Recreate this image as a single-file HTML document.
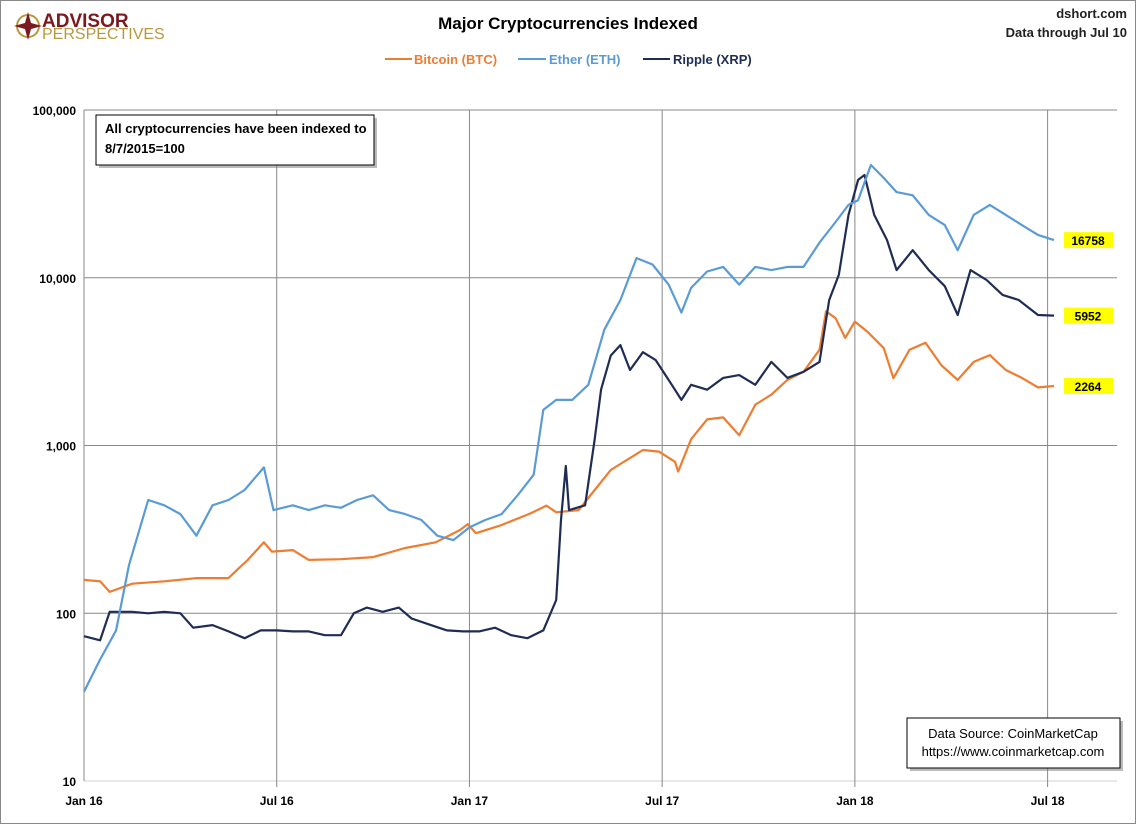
<!DOCTYPE html>
<html><head><meta charset="utf-8"><style>
body{margin:0;background:#fff;font-family:"Liberation Sans",sans-serif}
#wrap{position:relative;width:1136px;height:824px;overflow:hidden}
</style></head><body>
<div id="wrap">
<svg id="chart" width="1136" height="824" xmlns="http://www.w3.org/2000/svg">
<rect x="0.5" y="0.5" width="1135" height="823" fill="#fff" stroke="#888"/>
<g>
<circle cx="28" cy="26" r="11" fill="none" stroke="#b8983f" stroke-width="2"/>
<polygon points="28,12 31,23 42,26 31,29 28,40 25,29 14,26 25,23" fill="#7a1a1f"/>
<text x="42" y="27" font-size="19" font-weight="bold" fill="#7a1a1f">ADVISOR</text>
<text x="42" y="39" font-size="16" fill="#b8983f">PERSPECTIVES</text>
</g>
<text x="568" y="29" text-anchor="middle" font-size="17" font-weight="bold">Major Cryptocurrencies  Indexed</text>
<text x="1127" y="18" text-anchor="end" font-size="13" font-weight="bold" fill="#222">dshort.com</text>
<text x="1127" y="37" text-anchor="end" font-size="13" font-weight="bold" fill="#222">Data through Jul 10</text>
<g font-size="13" font-weight="bold">
<g><line x1="385" y1="59" x2="412" y2="59" stroke="#ED7D31" stroke-width="2"/><text x="414" y="64" fill="#ED7D31">Bitcoin (BTC)</text></g>
<g><line x1="518" y1="59" x2="546" y2="59" stroke="#5B9BD5" stroke-width="2"/><text x="549" y="64" fill="#5B9BD5">Ether (ETH)</text></g>
<g><line x1="643" y1="59" x2="670" y2="59" stroke="#1F2D54" stroke-width="2"/><text x="673" y="64" fill="#1F2D54">Ripple (XRP)</text></g>
</g>
<g id="grid"></g><g id="axes"></g><g id="series"></g>
<g>
<rect x="99" y="118" width="278" height="50" fill="#777" opacity="0.5"/>
<rect x="96" y="115" width="278" height="50" fill="#fff" stroke="#000"/>
<text x="105" y="133" font-size="13" font-weight="bold">All cryptocurrencies have been indexed to</text>
<text x="105" y="153" font-size="13" font-weight="bold">8/7/2015=100</text>
</g>
<g>
<rect x="910" y="721" width="213" height="50" fill="#777" opacity="0.5"/>
<rect x="907" y="718" width="213" height="50" fill="#fff" stroke="#000"/>
<text x="1013" y="738" text-anchor="middle" font-size="13">Data Source: CoinMarketCap</text>
<text x="1013" y="756" text-anchor="middle" font-size="13">https://www.coinmarketcap.com</text>
</g>
<g id="labels"></g>
</svg>
</div>
<script>
// months since Jan 1 2016
const btcMonths=[0,.5,.8,1.5,2.5,3.5,4.5,4.85,5.1,5.6,5.85,6.5,7,8,9,10,10.95,11.7,11.95,12.2,12.95,13.9,14.4,14.7,15.4,15.9,16.4,16.9,17.4,17.9,18.4,18.5,18.9,19.4,19.9,20.4,20.9,21.4,21.9,22.4,22.9,23.1,23.4,23.7,24,24.4,24.9,25.2,25.7,26.2,26.7,27.2,27.7,28.2,28.7,29.2,29.7,30.2];
const btcValues=[158,155,134,150,155,162,162,188,208,265,233,238,208,210,216,245,265,313,340,300,333,394,438,400,412,543,715,820,940,920,800,700,1090,1430,1470,1150,1750,2010,2460,2750,3720,6300,5740,4380,5480,4750,3800,2520,3720,4100,3000,2460,3150,3460,2820,2530,2220,2264];
const ethMonths=[0,.5,1,1.4,2,2.5,3,3.5,4,4.5,5,5.6,5.9,6.5,7,7.5,8,8.5,9,9.5,10,10.5,11,11.5,12,12.5,13,13.5,14,14.3,14.7,15.2,15.7,16.2,16.7,17.2,17.7,18.2,18.6,18.9,19.4,19.9,20.4,20.9,21.4,21.9,22.4,22.9,23.4,23.8,24.1,24.5,24.9,25.3,25.8,26.3,26.8,27.2,27.7,28.2,28.7,29.2,29.7,30.2];
const ethValues=[34,53,79,194,473,440,390,290,440,473,543,740,412,440,412,440,425,473,505,412,390,360,290,273,325,360,390,505,670,1630,1870,1870,2300,4900,7370,13100,12000,9100,6200,8700,10900,11600,9100,11600,11100,11600,11600,16200,21500,27200,29000,47000,39300,32400,31000,23700,20600,14600,23700,27200,23700,20600,18000,16758];
const xrpMonths=[0,.5,.8,1.5,2,2.5,3,3.4,4,4.5,5,5.5,6,6.5,7,7.5,8,8.4,8.8,9.3,9.8,10.2,10.8,11.3,11.8,12.3,12.8,13.3,13.8,14.3,14.7,14.85,15,15.1,15.6,15.9,16.1,16.4,16.7,17,17.4,17.8,18.3,18.6,18.9,19.4,19.9,20.4,20.9,21.4,21.9,22.4,22.9,23.2,23.5,23.8,24.1,24.3,24.6,25,25.3,25.8,26.3,26.8,27.2,27.6,28.1,28.6,29.1,29.7,30.2];
const xrpValues=[73,69,102,102,100,102,100,82,85,78,71,79,79,78,78,74,74,100,108,102,108,93,85,79,78,78,82,74,71,79,120,360,755,412,440,1090,2160,3440,3970,2820,3600,3230,2300,1870,2300,2150,2530,2630,2300,3150,2530,2750,3150,7370,10400,23700,38300,41000,23700,16800,11100,14600,11100,8900,6000,11100,9700,7900,7370,6000,5952];
const yTicks=[10,100,1000,10000,100000];
const yTickLabels=["10","100","1,000","10,000","100,000"];
const xTickMonths=[0,6,12,18,24,30];
const xTickLabels=["Jan 16","Jul 16","Jan 17","Jul 17","Jan 18","Jul 18"];
const lastLabels=["16758","5952","2264"];

const L=84,R=1117,T=110,B=781;
const xs=m=>L+m*32.12;
const ys=v=>B-(Math.log10(v)-1)*(B-T)/4;
const NS="http://www.w3.org/2000/svg";
function mk(tag,parent,attrs){const e=document.createElementNS(NS,tag);for(const k in attrs)e.setAttribute(k,attrs[k]);parent.appendChild(e);return e;}
const grid=document.getElementById('grid'),axes=document.getElementById('axes'),ser=document.getElementById('series'),lab=document.getElementById('labels');
yTicks.forEach((v,i)=>{
  const y=ys(v);
  const g=mk('line',grid,{x1:L,x2:R,y1:y,y2:y,stroke:i==0?'#d0d0d0':'#888','stroke-width':1});
  
  
  const t=mk('text',axes,{x:76,y:y+5,'text-anchor':'end','font-size':12,'font-weight':'bold'});
  t.textContent=yTickLabels[i];
  
  
});
xTickMonths.forEach((m,i)=>{
  const x=xs(m);
  if(i>0){const g=mk('line',grid,{x1:x,x2:x,y1:T,y2:B+6,stroke:'#888','stroke-width':1});
  
  }
  const t=mk('text',axes,{x:x,y:805,'text-anchor':'middle','font-size':12,'font-weight':'bold'});
  t.textContent=xTickLabels[i];
  
  
});
const ax=mk('line',axes,{x1:L,x2:L,y1:T,y2:B,stroke:'#888'});


const series=[[btcMonths,btcValues,'#ED7D31','btc-line'],[xrpMonths,xrpValues,'#1F2D54','xrp-line'],[ethMonths,ethValues,'#5B9BD5','eth-line']];
series.forEach(s=>{
  const d=s[0].map((m,i)=>(i?'L':'M')+xs(m).toFixed(1)+','+ys(s[1][i]).toFixed(1)).join(' ');
  const p=mk('path',ser,{d:d,fill:'none',stroke:s[2],'stroke-width':2.2,'stroke-linejoin':'round'});
  
  
});
[[ethValues,lastLabels[0]],[xrpValues,lastLabels[1]],[btcValues,lastLabels[2]]].forEach(a=>{
  const y=ys(a[0][a[0].length-1]);
  const r=mk('rect',lab,{x:1064,y:y-8,width:49,height:16,fill:'#ffff00'});
  
  
  const t=mk('text',lab,{x:1088,y:y+5,'text-anchor':'middle','font-size':12,'font-weight':'bold'});
  t.textContent=a[1];
  
  
});
</script>
</body></html>
